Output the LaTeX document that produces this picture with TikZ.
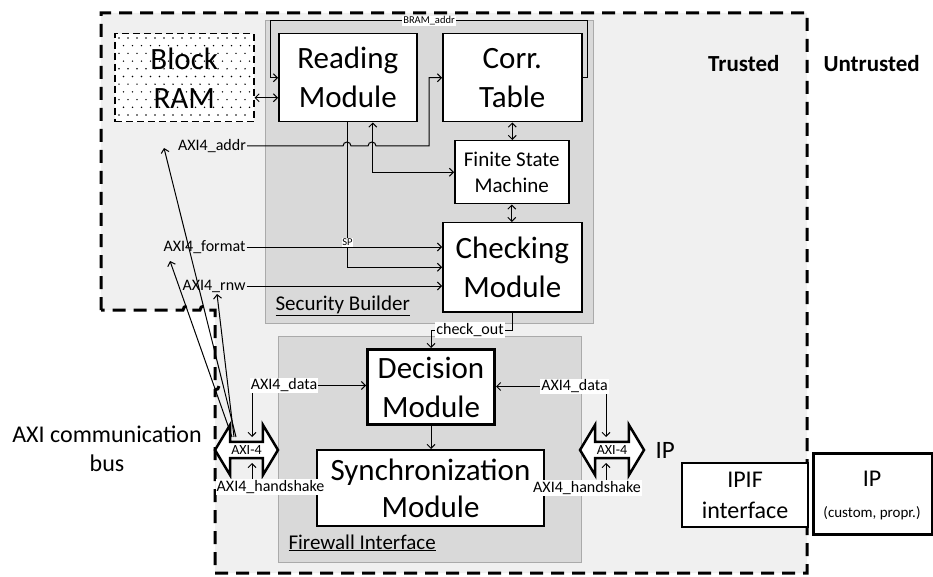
\documentclass[tikz,border=0pt]{standalone}
\usepackage{fontspec}
\setmainfont{Carlito}
\usetikzlibrary{arrows.meta,shapes.arrows,calc}
\definecolor{trustbg}{RGB}{240,240,240}
\definecolor{regbg}{RGB}{217,217,217}
\definecolor{regbd}{RGB}{170,170,170}
\newcommand{\myfs}[2]{\fontsize{#1}{#2}\selectfont}
\begin{document}
\begin{tikzpicture}[x=1pt,y=-1pt,
  >={Straight Barb[length=4pt,width=8pt]},
  conn/.style={line width=1pt,->},
  conn2/.style={line width=1pt,<->},
  region/.style={fill=regbg,draw=regbd,line width=1pt,anchor=north west,inner sep=0pt},
  blk/.style={draw,fill=white,line width=1.5pt,align=center,inner sep=0pt,anchor=north west,font=\myfs{31}{39}},
  fsmbox/.style={draw,fill=white,line width=1.5pt,align=center,inner sep=0pt,anchor=north west,font=\myfs{21}{26}},
  sig/.style={font=\myfs{16}{18},inner xsep=1pt,inner ysep=1pt},
  sigw/.style={sig,fill=white},
  tiny/.style={fill=white,font=\myfs{10.5}{12},inner sep=0.8pt},
  axi/.style={double arrow,draw,line width=2.5pt,fill=white,minimum width=50pt,
    double arrow head extend=12pt,double arrow tip angle=118,inner sep=0pt,font=\myfs{14}{16}},
]
\useasboundingbox (0,0) rectangle (933,577);
\fill[white] (0,0) rectangle (933,577);
% trusted zone
\fill[trustbg] (101,13) -- (807,13) -- (807,573) -- (215,573) -- (215,310) -- (101,310) -- cycle;
% regions
\node[region,minimum width=328,minimum height=303] (sb) at (265,20) {};
\node[region,minimum width=303,minimum height=226] (fi) at (278,336) {};
\node[anchor=base west,font=\myfs{21}{25}] (sblab) at (272,310) {\underline{Security Builder}};
\node[anchor=base west,font=\myfs{21}{25}] (filab) at (285,549) {\underline{Firewall Interface}};
% trusted border
\draw[line width=3pt,dash pattern=on 13pt off 8pt] (101,310) -- (101,13) -- (807,13) -- (807,573) -- (215,573) -- (215,390)
  arc[start angle=90,end angle=-90,radius=4] -- (215,310) -- (208,310)
  arc[start angle=0,end angle=-180,radius=4] -- (191,310)
  arc[start angle=0,end angle=-180,radius=4] -- (101,310);
\node[anchor=base east,font=\bfseries\myfs{23}{26}] (trust) at (783,72) {Trusted};
\node[anchor=base west,font=\bfseries\myfs{23}{26}] (untrust) at (820,72) {Untrusted};
% block RAM
\node[draw,dash pattern=on 7pt off 4pt,line width=1.5pt,fill=white,minimum width=139,minimum height=88,anchor=north west,inner sep=0pt] (bram) at (114,33) {};
\foreach \i in {0,...,14}{\foreach \j in {0,...,10}{
  \fill ({119+9*\i+mod(\j,2)*4.5},{38+7.7*\j}) circle[radius=0.8];}}
\node[font=\myfs{31}{39},align=center] (bramtxt) at (bram.center) {Block\\RAM};
% boxes
\node[blk,minimum width=138,minimum height=88] (rm) at (278,33) {Reading\\Module};
\node[blk,minimum width=139,minimum height=88] (ct) at (442,33) {Corr.\\Table};
\node[fsmbox,minimum width=114,minimum height=63] (fsm) at (454,140) {Finite State\\Machine};
\node[blk,minimum width=139,minimum height=89] (cm) at (442,222) {Checking\\Module};
\node[blk,line width=3pt,minimum width=127,minimum height=75] (dm) at (366,348) {Decision\\Module};
\node[blk,line width=2pt,minimum width=227,minimum height=76,font=\myfs{31}{37}] (sm) at (316,449) {Synchronization\\Module};
\node[draw,fill=white,line width=2pt,minimum width=126,minimum height=64,anchor=north west,align=center,font=\myfs{24}{31},inner sep=0pt] (ipif) at (681,462) {IPIF\\interface};
\node[draw,fill=white,line width=2.5pt,minimum width=119,minimum height=81,anchor=north west,inner sep=0pt] (ip) at (812,452) {};
\node[font=\myfs{24}{28},anchor=base] (iptxt) at (872,486) {IP};
\node[font=\myfs{15}{18},anchor=base] (ipsub) at (872,517) {(custom, propr.)};
% AXI arrows
\node[axi,minimum height=63pt] (axL) at (246.5,450) {AXI-4};
\node[axi,minimum height=64pt] (axR) at (612,450) {AXI-4};
\node[anchor=base west,font=\myfs{25}{28}] (iplab) at (652,458) {IP};
\node[align=center,font=\myfs{24}{29}] (bus) at (107,449) {AXI communication\\bus};
% signal labels (no fill)
\node[sig] (laddr) at (212,146) {AXI4\_addr};
\node[sig] (lfmt) at (204.5,247) {AXI4\_format};
\node[sig] (lrnw) at (214,286) {AXI4\_rnw};
% connectors
\draw[conn] (ct.east) -| (587,21) -| ($(rm.west)+(-8,0)$) -- (rm.west);
\draw[conn2] ([yshift=-20pt]bram.east) -- ([yshift=-20pt]rm.west);
\draw[conn] (laddr.east) -- (343,146) arc[start angle=180,end angle=360,radius=4] -- (368,146)
  arc[start angle=180,end angle=360,radius=4] -- (429,146) |- (ct.west);
\draw[conn2] ([xshift=25pt]rm.south) |- (fsm.west);
\draw[conn] (rm.south) |- (cm.west);
\draw[conn] (lfmt.east) -- (lfmt.east -| cm.west);
\draw[conn] (lrnw.east) -- (lrnw.east -| cm.west);
\draw[conn2] (ct.south) -- (ct.south |- fsm.north);
\draw[conn2] (fsm.south) -- (fsm.south |- cm.north);
\draw[conn] (cm.south) |- ($(dm.north)+(0,-18)$) -- (dm.north);
\draw[conn] (dm.south) -- (dm.south |- sm.north);
% AXI side signals
\node[sigw] (ldataL) at (284,385.5) {AXI4\_data};
\node[sigw] (ldataR) at (574.5,386.5) {AXI4\_data};
\coordinate (pL) at ($(axL.center)+(5.5,0)$);
\coordinate (pR) at ($(axR.center)+(-6,0)$);
\draw[conn] (ldataL.east) -- (ldataL.east -| dm.west);
\draw[conn] (ldataR.west) -- (ldataR.west -| dm.east);
\draw[conn] (pL |- ldataL.south) -- ($(pL)+(0,-13)$);
\draw[conn] (pR |- ldataR.south) -- ($(pR)+(0,-13)$);
\node[sigw] (lhsL) at (270.5,487) {AXI4\_handshake};
\node[sigw] (lhsR) at (587,488) {AXI4\_handshake};
\draw[conn] (pL |- lhsL.north) -- ($(pL)+(0,13)$);
\draw[conn] (pR |- lhsR.north) -- ($(pR)+(0,13)$);
% slanted signals to the bus
\coordinate (tAddr) at (164,148);
\coordinate (tFmt) at (170,261);
\coordinate (tRnw) at (217,294);
\draw[conn] ($(axL.center)+(-10.5,-13)$) -- (tAddr);
\draw[conn] ($(axL.center)+(-14.5,-13)$) -- (tFmt);
\draw[conn] ($(axL.center)+(-12.5,-13)$) -- (tRnw);
% small labels on top
\node[tiny] (lbram) at (429,21) {BRAM\_addr};
\node[tiny] (lsp) at (347.5,242.5) {SP};
\node[sigw] (lcheck) at (470,330) {check\_out};
\end{tikzpicture}
\end{document}
